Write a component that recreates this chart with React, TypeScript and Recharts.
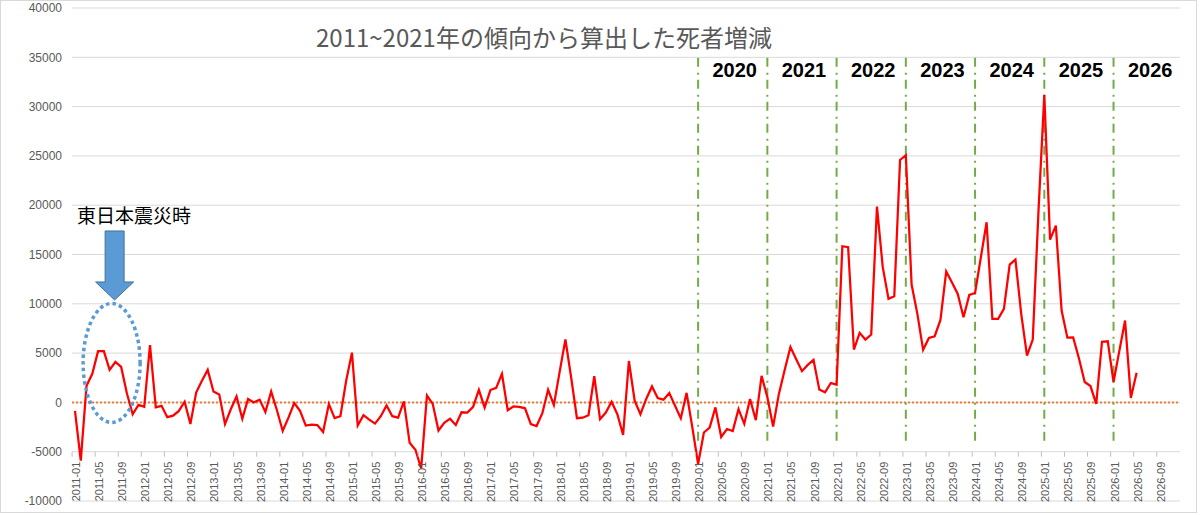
import {
  LineChart,
  Line,
  XAxis,
  YAxis,
  CartesianGrid,
  ReferenceLine,
  ReferenceDot,
} from 'recharts';

// monthly excess deaths vs. 2011-2021 trend
const v2011 = [-860, -5900, 1700, 2900, 5200, 5200, 3300, 4100, 3600, 900, -1200, -250];
const v2012 = [-450, 5800, -500, -350, -1500, -1350, -860, 70, -2200, 1000, 2200, 3300];
const v2013 = [1100, 800, -2200, -700, 600, -1650, 350, 0, 280, -970, 1100, -800];
const v2014 = [-2900, -1550, -70, -860, -2350, -2250, -2300, -3000, -170, -1600, -1400, 2200];
const v2015 = [5050, -2350, -1300, -1750, -2150, -1400, -300, -1400, -1550, 100, -4100, -4800];
const v2016 = [-6700, 700, -150, -2850, -2070, -1650, -2300, -1000, -1030, -450, 1280, -520];
const v2017 = [1250, 1480, 2900, -800, -400, -450, -600, -2200, -2400, -1100, 1280, -260];
const v2018 = [3100, 6380, 2500, -1600, -1550, -1300, 2660, -1700, -1030, 70, -1200, -3300];
const v2019 = [4200, 170, -1200, 350, 1620, 440, 280, 950, -340, -1620, 970, -2550];
const v2020 = [-6250, -3050, -2550, -510, -3500, -2700, -2900, -680, -2170, 350, -1800, 2690];
const v2021 = [520, -2450, 860, 3280, 5620, 4380, 3170, 3800, 4310, 1310, 1030, 1970];
const v2022 = [1800, 15840, 15740, 5360, 7050, 6370, 6880, 19860, 13710, 10500, 10770, 24590];
const v2023 = [25070, 11950, 8980, 5330, 6540, 6710, 8370, 13270, 12150, 11000, 8640, 10900];
const v2024 = [11100, 14700, 18270, 8470, 8470, 9480, 13980, 14490, 8980, 4750, 6370, 19500];
const v2025 = [31200, 16510, 17930, 9310, 6560, 6580, 4480, 2070, 1660, -150, 6150, 6200];
const v2026 = [2070, 5200, 8300, 450, 3000];

const years = [2011, 2012, 2013, 2014, 2015, 2016, 2017, 2018, 2019, 2020, 2021, 2022, 2023, 2024, 2025, 2026];
const monthNums = ['01', '02', '03', '04', '05', '06', '07', '08', '09', '10', '11', '12'];
const markerYears = ['2020', '2021', '2022', '2023', '2024', '2025', '2026'];
const yTicks = [-10000, -5000, 0, 5000, 10000, 15000, 20000, 25000, 30000, 35000, 40000];

const values = [
  ...v2011, ...v2012, ...v2013, ...v2014, ...v2015, ...v2016, ...v2017, ...v2018,
  ...v2019, ...v2020, ...v2021, ...v2022, ...v2023, ...v2024, ...v2025, ...v2026,
];
const months = years.flatMap((y) => monthNums.map((m) => `${y}-${m}`));
const data = months.map((month, i) => ({ month, value: i < values.length ? values[i] : null }));

const GRAY = '#595959';
const LATIN = '"Liberation Sans", Arial, sans-serif';
const CJK = '"Noto Sans CJK JP", sans-serif';

// category labels hang below the -5000 line, like the Excel original
function MonthTick({ x, y, payload }: any) {
  const axisY = y - 49.3;
  const tx = x + 5;
  const ty = axisY + 10;
  return (
    <g>
      <line x1={x - 2.9} x2={x - 2.9} y1={axisY} y2={axisY + 5} stroke="#BFBFBF" />
      <text
        x={tx}
        y={ty}
        transform={`rotate(-90 ${tx} ${ty})`}
        textAnchor="end"
        fontSize={11}
        fill={GRAY}
        fontFamily={LATIN}
      >
        {payload.value}
      </text>
    </g>
  );
}

function QuakeMarker({ cx, cy }: any) {
  const tx = cx + 5;
  const ty = cy - 63;
  const arrow = [
    [tx - 9.5, ty - 69],
    [tx + 9.5, ty - 69],
    [tx + 9.5, ty - 18],
    [tx + 19, ty - 18],
    [tx, ty],
    [tx - 19, ty - 18],
    [tx - 9.5, ty - 18],
  ]
    .map((p) => p.join(','))
    .join(' ');
  return (
    <g>
      <ellipse
        cx={cx + 2}
        cy={cy}
        rx={28.5}
        ry={59.5}
        fill="none"
        stroke="#5B9BD5"
        strokeWidth={3.5}
        strokeDasharray="3.5 3.2"
      />
      <polygon points={arrow} fill="#5B9BD5" stroke="#41719C" strokeWidth={1} />
      <text
        x={tx - 37.5}
        y={ty - 85}
        dominantBaseline="central"
        fontSize={19}
        fill="#000"
        fontFamily={CJK}
      >
        東日本震災時
      </text>
    </g>
  );
}

function YearLabel({ cx, cy, label }: any) {
  return (
    <text
      x={cx + 2}
      y={cy}
      textAnchor="middle"
      dominantBaseline="central"
      fontSize={20}
      fontWeight="bold"
      fill="#000"
      fontFamily={LATIN}
    >
      {label}
    </text>
  );
}

export default function App() {
  return (
    <div style={{ position: 'absolute', left: 0, top: 0, width: 1200, height: 515, background: '#fff' }}>
      <LineChart
        width={1200}
        height={515}
        data={data}
        margin={{ top: 8, right: 20, bottom: 0, left: 0 }}
        style={{ fontFamily: LATIN }}
      >
        <CartesianGrid vertical={false} stroke="#D9D9D9" />
        <XAxis
          dataKey="month"
          interval={3}
          height={14}
          padding={{ left: 3, right: 3 }}
          tickSize={0}
          tickMargin={0}
          axisLine={false}
          tickLine={false}
          tick={<MonthTick />}
        />
        <YAxis
          domain={[-10000, 40000]}
          ticks={yTicks}
          width={72}
          tickSize={0}
          tickMargin={10}
          axisLine={false}
          tickLine={false}
          tick={{ fontSize: 12, fill: GRAY }}
        />
        <ReferenceLine y={0} stroke="#ED7D31" strokeWidth={2} strokeDasharray="2 2" />
        {markerYears.map((yr) => (
          <ReferenceLine
            key={`line-${yr}`}
            segment={[
              { x: `${yr}-01`, y: -3900 },
              { x: `${yr}-01`, y: 35000 },
            ]}
            stroke="#70AD47"
            strokeWidth={2}
            strokeDasharray="9 5 2 6"
          />
        ))}
        <Line
          type="linear"
          dataKey="value"
          stroke="#FF0000"
          strokeWidth={2.25}
          dot={false}
          activeDot={false}
          isAnimationActive={false}
        />
        {markerYears.map((yr) => (
          <ReferenceDot
            key={`label-${yr}`}
            x={`${yr}-07`}
            y={33700}
            r={0}
            shape={(p: any) => <YearLabel {...p} label={yr} />}
          />
        ))}
        <ReferenceDot x="2011-07" y={4000} r={0} shape={(p: any) => <QuakeMarker {...p} />} />
      </LineChart>
      <div
        style={{
          position: 'absolute',
          left: 316,
          top: 22,
          fontSize: 24,
          lineHeight: '30px',
          color: GRAY,
          fontFamily: CJK,
          whiteSpace: 'nowrap',
        }}
      >
        2011~2021年の傾向から算出した死者増減
      </div>
      <div
        style={{
          position: 'absolute',
          left: 0,
          top: 0,
          width: 1197,
          height: 513,
          border: '1px solid #D9D9D9',
          boxSizing: 'border-box',
          pointerEvents: 'none',
        }}
      />
    </div>
  );
}
